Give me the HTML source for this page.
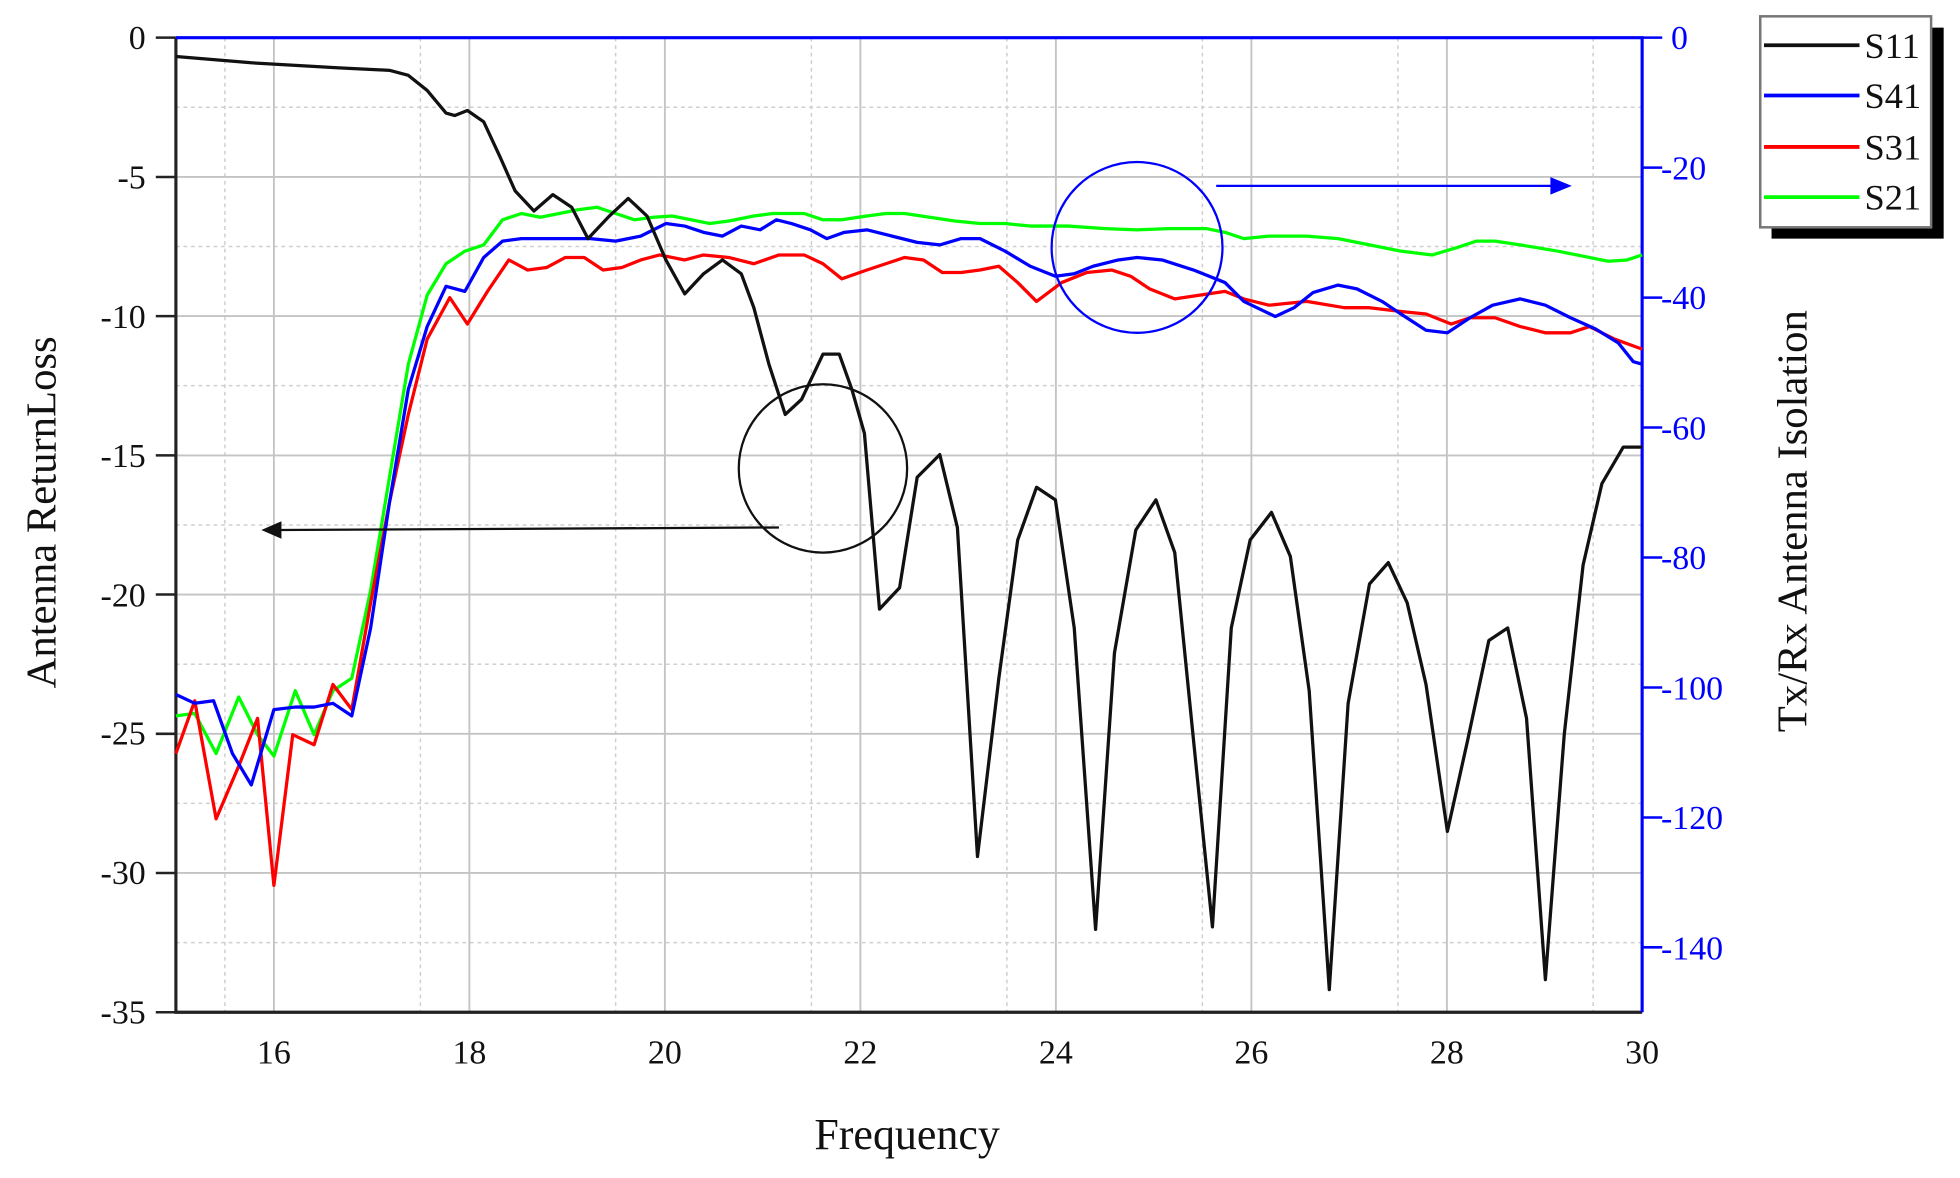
<!DOCTYPE html>
<html><head><meta charset="utf-8"><style>html,body{margin:0;padding:0;background:#fff;overflow:hidden}</style></head>
<body>
<svg width="1960" height="1173" viewBox="0 0 1560 934" preserveAspectRatio="none" xmlns="http://www.w3.org/2000/svg" font-family="Liberation Serif, serif">
<rect width="1560" height="934" fill="#fff"/>
<g stroke="#cfcfcf" stroke-width="1.2" stroke-dasharray="3,3" fill="none">
<path d="M179 30V806M334.6 30V806M490 30V806M645.8 30V806M801.4 30V806M957 30V806M1112.6 30V806M1268 30V806"/>
<path d="M140 85.4H1307M140 196.3H1307M140 307.1H1307M140 418H1307M140 528.9H1307M140 639.7H1307M140 750.6H1307"/>
</g>
<g stroke="#c4c4c4" stroke-width="1.5" fill="none">
<path d="M218 30V806M373.6 30V806M529.2 30V806M684.8 30V806M840.4 30V806M996 30V806M1151.6 30V806"/>
<path d="M140 140.9H1307M140 251.7H1307M140 362.6H1307M140 473.4H1307M140 584.3H1307M140 695.1H1307"/>
</g>
<path d="M140 30V806H1307" stroke="#222" stroke-width="2.5" fill="none"/>
<path d="M140 30H1307V806" stroke="#00f" stroke-width="2.5" fill="none"/>
<g stroke="#222" stroke-width="2"><path d="M124 30h16M124 140.9h16M124 251.7h16M124 362.6h16M124 473.4h16M124 584.3h16M124 695.1h16M124 806h16"/></g>
<g stroke="#00f" stroke-width="2"><path d="M1307 30h16M1307 133.5h16M1307 237h16M1307 340.4h16M1307 443.9h16M1307 547.4h16M1307 650.9h16M1307 754.3h16"/></g>
<g font-size="27" fill="#111" text-anchor="end">
<text x="116" y="39">0</text><text x="116" y="150">-5</text><text x="116" y="261">-10</text><text x="116" y="372">-15</text><text x="116" y="483">-20</text><text x="116" y="593">-25</text><text x="116" y="704">-30</text><text x="116" y="815">-35</text>
</g>
<g font-size="27" fill="#00f" text-anchor="start">
<text x="1330" y="39">0</text><text x="1322" y="143">-20</text><text x="1322" y="246">-40</text><text x="1322" y="350">-60</text><text x="1322" y="453">-80</text><text x="1322" y="557">-100</text><text x="1322" y="660">-120</text><text x="1322" y="764">-140</text>
</g>
<g font-size="27" fill="#111" text-anchor="middle">
<text x="218" y="847">16</text><text x="373.6" y="847">18</text><text x="529.2" y="847">20</text><text x="684.8" y="847">22</text><text x="840.4" y="847">24</text><text x="996" y="847">26</text><text x="1151.6" y="847">28</text><text x="1307" y="847">30</text>
</g>
<text x="722" y="915" font-size="35" text-anchor="middle" fill="#111">Frequency</text>
<text transform="translate(44,408) rotate(-90)" font-size="34" text-anchor="middle" fill="#111">Antenna ReturnLoss</text>
<text transform="translate(1438,415) rotate(-90)" font-size="34" text-anchor="middle" fill="#111">Tx/Rx Antenna Isolation</text>
<g fill="none" stroke-width="2.6" stroke-linejoin="round">
<polyline stroke="#00ff00" points="140,570 155,568 172,600 190,555 205,585 218,602 235,550 250,585 265,550 280,540 295,470 310,380 325,290 340,235 355,210 370,200 385,195 400,175 415,170 430,173 445,170 460,167 475,165 490,170 505,175 520,173 535,172 550,175 565,178 580,176 600,172 615,170 640,170 655,175 670,175 690,172 705,170 720,170 740,173 760,176 780,178 800,178 820,180 850,180 880,182 905,183 930,182 960,182 975,185 990,190 1010,188 1040,188 1065,190 1090,195 1115,200 1140,203 1160,197 1175,192 1190,192 1210,195 1240,200 1265,205 1280,208 1295,207 1307,203"/>
<polyline stroke="#ff0000" points="140,600 155,558 172,652 190,610 205,572 218,705 233,585 250,593 265,545 280,565 295,480 310,400 325,330 340,270 358,237 372,258 388,232 405,207 420,215 435,213 450,205 465,205 480,215 495,213 510,207 525,203 545,207 560,203 580,205 600,210 620,203 640,203 655,210 670,222 690,215 705,210 720,205 735,207 750,217 765,217 780,215 795,212 810,225 825,240 845,225 865,217 885,215 900,220 915,230 935,238 955,235 975,232 990,238 1010,243 1040,240 1070,245 1090,245 1115,248 1135,250 1155,258 1170,253 1190,253 1210,260 1230,265 1250,265 1265,260 1285,270 1307,278"/>
<polyline stroke="#0000ff" points="140,553 155,560 170,558 185,600 200,625 218,565 235,563 250,563 265,560 280,570 295,500 310,400 325,310 340,260 355,228 370,232 385,205 400,192 415,190 445,190 470,190 490,192 510,188 530,178 545,180 560,185 575,188 590,180 605,183 618,175 630,178 645,183 658,190 672,185 690,183 710,188 730,193 748,195 765,190 780,190 800,200 820,212 840,220 855,218 870,212 890,207 905,205 925,207 950,215 975,225 990,240 1015,252 1030,245 1045,233 1065,227 1080,230 1100,240 1115,250 1135,263 1152,265 1170,253 1188,243 1210,238 1230,243 1250,253 1270,262 1288,273 1300,288 1307,290"/>
<polyline stroke="#111" points="140,45 200,50 270,54 310,56 325,60 340,72 355,90 362,92 372,88 385,97 398,125 410,152 425,168 440,155 455,165 468,190 485,172 500,158 515,172 530,207 545,234 560,218 575,207 590,218 600,245 612,290 625,330 638,318 655,282 668,282 678,310 688,345 700,485 716,468 730,380 748,362 762,420 778,682 795,540 810,430 825,388 840,398 855,500 872,740 887,520 904,422 920,398 935,440 950,590 965,738 980,500 995,430 1012,408 1027,443 1042,550 1058,788 1073,560 1090,465 1105,448 1120,480 1135,545 1152,662 1168,590 1185,510 1200,500 1215,572 1230,780 1245,585 1260,450 1275,385 1292,356 1307,356"/>
</g>
<circle cx="655" cy="373" r="67" fill="none" stroke="#111" stroke-width="1.8"/>
<path d="M620 420L222 422" stroke="#111" stroke-width="1.8"/>
<path d="M208 422L224 415L224 429Z" fill="#111"/>
<circle cx="905" cy="197" r="68" fill="none" stroke="#00f" stroke-width="1.8"/>
<path d="M968 148H1236" stroke="#00f" stroke-width="1.8"/>
<path d="M1251 148L1234 141L1234 155Z" fill="#00f"/>
<rect x="1410" y="22" width="137" height="168" fill="#000"/>
<rect x="1401" y="13" width="136" height="168" fill="#fff" stroke="#777" stroke-width="2"/>
<g stroke-width="3"><path d="M1404 36H1480" stroke="#111"/><path d="M1404 76H1480" stroke="#00f"/><path d="M1404 117H1480" stroke="#f00"/><path d="M1404 157H1480" stroke="#0f0"/></g>
<g font-size="29" fill="#111"><text x="1484" y="46">S11</text><text x="1484" y="86">S41</text><text x="1484" y="127">S31</text><text x="1484" y="167">S21</text></g>
</svg>
</body></html>
